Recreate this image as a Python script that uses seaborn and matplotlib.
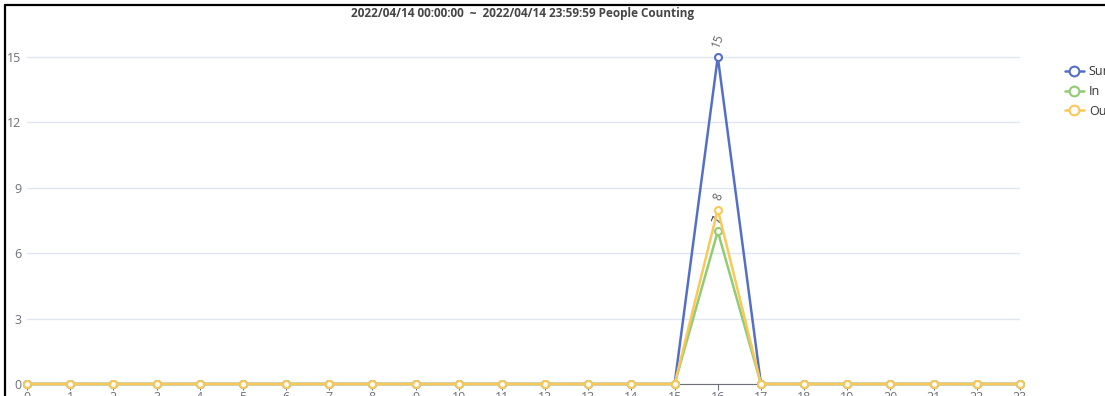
import pandas as pd
import matplotlib.pyplot as plt
import seaborn as sns
from matplotlib.lines import Line2D

# Hourly counts for 2022/04/14
hours = list(range(24))
sum_counts = [0] * 15 + [0, 15, 0] + [0] * 6
in_counts = [0] * 15 + [0, 7, 0] + [0] * 6
out_counts = [0] * 15 + [0, 8, 0] + [0] * 6
series_names = ['Sum', 'In', 'Out']
colors = ['#5470c6', '#91cc75', '#fac858']

df = pd.DataFrame({
    'Hour': hours * 3,
    'Count': sum_counts + in_counts + out_counts,
    'Series': [s for s in series_names for _ in hours],
})

sns.set_style('white')
plt.rcParams['font.family'] = ['Open Sans', 'DejaVu Sans']

fig = plt.figure(figsize=(11.05, 3.96), dpi=100)
ax = fig.add_axes([27 / 1105, 12 / 396, 993 / 1105, 17 * 21.8 / 396])

sns.lineplot(data=df, x='Hour', y='Count', hue='Series', palette=colors,
             marker='o', markersize=5, linewidth=1.8, ax=ax, legend=False)

# open circle markers in the series colour
for line, c in zip(ax.lines, colors):
    line.set_markerfacecolor('white')
    line.set_markeredgecolor(c)
    line.set_markeredgewidth(1.5)
    line.set_clip_on(False)

# Point labels at the peak
peak = 16
ax.text(peak, sum_counts[peak] + 0.35, str(sum_counts[peak]), rotation=70,
        ha='center', va='bottom', fontsize=8.5, color='#666666')
ax.text(peak, out_counts[peak] + 0.35, str(out_counts[peak]), rotation=70,
        ha='center', va='bottom', fontsize=8.5, color='#666666')
ax.text(peak, in_counts[peak] + 0.3, str(in_counts[peak]), rotation=70,
        ha='center', va='bottom', fontsize=8.5, color='#333333', zorder=1)

ax.set_xlim(0, 23)
ax.set_ylim(0, 17)
ax.set_xticks(hours)
ax.set_yticks([0, 3, 6, 9, 12, 15])
ax.set_xlabel('')
ax.set_ylabel('')
ax.grid(axis='y', color='#e0e6f1', linewidth=1)
ax.set_axisbelow(True)
for side in ['top', 'right', 'left']:
    ax.spines[side].set_visible(False)
ax.spines['bottom'].set_color('#6e7079')
ax.spines['bottom'].set_zorder(0.5)
ax.tick_params(axis='x', length=4, color='#6e7079', labelcolor='#6e7079',
               labelsize=9, pad=1, bottom=True)
ax.tick_params(axis='y', length=0, labelcolor='#6e7079', labelsize=9, pad=4)
ax.patch.set_alpha(0)

fig.suptitle('2022/04/14 00:00:00  ~  2022/04/14 23:59:59 People Counting',
             x=523 / 1105, y=1 - 7 / 396, va='top', fontsize=8.5,
             fontweight='bold', color='#464646')

handles = [Line2D([], [], color=c, marker='o', markerfacecolor='white',
                  markersize=7, markeredgewidth=1.5, linewidth=1.8)
           for c in colors]
fig.legend(handles, series_names, loc='upper left',
           bbox_to_anchor=(1060 / 1105, 1 - 60 / 396), frameon=False,
           fontsize=9, handlelength=1.5, handletextpad=0.4,
           labelspacing=0.55, labelcolor='#333333', borderaxespad=0)

# Screenshot border
fig.add_artist(Line2D([5 / 1105, 5 / 1105], [0, 1 - 5 / 396],
                      color='black', linewidth=1.6, transform=fig.transFigure))
fig.add_artist(Line2D([5 / 1105, 1], [1 - 5 / 396, 1 - 5 / 396],
                      color='black', linewidth=1.6, transform=fig.transFigure))

fig.savefig('out.png', dpi=100)
